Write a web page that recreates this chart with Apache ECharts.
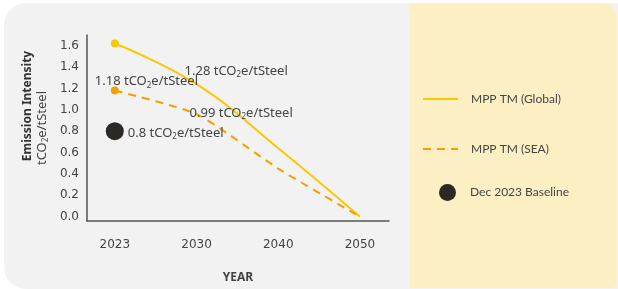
<!DOCTYPE html>
<html>
<head>
<meta charset="utf-8">
<script src="https://cdn.jsdelivr.net/npm/echarts@6/dist/echarts.min.js"></script>
<style>
  html, body { margin: 0; padding: 0; background: #fff; }
</style>
</head>
<body>
<div id="chart" style="width:618px;height:289px"></div>
<script>
// x positions are evenly spaced categories, so series use the category index
const years = ['2023', '2030', '2040', '2050'];
const globalVals = [1.62, 1.24, 0.64, 0];
const seaVals = [1.18, 0.96, 0.45, 0];
const baselineVal = 0.8;
const yTicks = [0, 0.2, 0.4, 0.6, 0.8, 1.0, 1.2, 1.4, 1.6];
// numbers printed in the annotations
const globalNote = '1.28';
const seaNotes = ['1.18', '0.99'];
const baselineNote = '0.8';

const yellow = '#fcc700';
const orange = '#f5a000';
const textCol = '#444';

const toPts = arr => arr.map((v, i) => [i, v]);

const rich = {
  n: { fontSize: 13, color: textCol, fontFamily: 'Noto Sans', lineHeight: 16 },
  s: { fontSize: 8, color: textCol, fontFamily: 'Noto Sans', lineHeight: 9, verticalAlign: 'bottom' }
};
function unitLabel(t) {
  return '{n|' + t + ' tCO}{s|2}{n|e/tSteel}';
}
// label pinned on a data point, dx/dy shift from that point
function labelPoint(i, v, text, dx, dy) {
  return {
    coord: [i, v], symbol: 'circle', symbolSize: 0,
    label: {
      show: true, position: 'inside', align: 'left', verticalAlign: 'middle',
      offset: [dx, dy], formatter: unitLabel(text), rich: rich
    }
  };
}

const legendText = { fontFamily: 'Lato', fontSize: 12, color: textCol, padding: [0, 0, 0, 8] };

const yBase = {
  type: 'value', min: -0.04, max: 1.7,
  nameLocation: 'middle', nameRotate: 90,
  axisTick: { show: false },
  splitLine: { show: false }
};

const option = {
  animation: false,
  graphic: [
    { type: 'rect', shape: { x: 4, y: 3, width: 614, height: 286, r: [22, 0, 0, 22] }, style: { fill: '#f2f2f2' }, z: -10 },
    { type: 'rect', shape: { x: 409, y: 3, width: 208, height: 285, r: [0, 15, 6, 0] }, style: { fill: '#fdefc4' }, z: -9 }
  ],
  grid: { left: 87, right: 229, top: 35, bottom: 68 },
  legend: [
    {
      left: 422, top: 93, padding: 0, itemWidth: 35, itemHeight: 14,
      data: ['MPP TM (Global)'], itemStyle: { opacity: 0 },
      textStyle: legendText
    },
    {
      left: 422, top: 143, padding: 0, itemWidth: 35, itemHeight: 14,
      data: ['MPP TM (SEA)'], itemStyle: { opacity: 0 },
      textStyle: legendText
    },
    {
      left: 439, top: 184, padding: 0, itemWidth: 17, itemHeight: 17,
      data: [{ name: 'Dec 2023 Baseline', icon: 'circle' }],
      textStyle: Object.assign({}, legendText, { padding: [0, 0, 0, 9] })
    }
  ],
  xAxis: {
    type: 'value', min: -0.34, max: 3.355,
    name: 'YEAR', nameLocation: 'middle', nameGap: 51,
    nameTextStyle: { fontFamily: 'Noto Sans', fontWeight: 'bold', fontSize: 12, color: textCol },
    axisLine: { onZero: false, lineStyle: { color: '#555', width: 1.5 } },
    axisTick: { show: false },
    splitLine: { show: false },
    axisLabel: {
      customValues: [0, 1, 2, 3], margin: 18,
      formatter: v => years[v],
      fontFamily: 'DejaVu Sans', fontSize: 12, color: textCol
    }
  },
  yAxis: [
    Object.assign({}, yBase, {
      name: 'Emission Intensity', nameGap: 53,
      nameTextStyle: { fontFamily: 'Noto Sans', fontWeight: 'bold', fontSize: 12, color: '#333', padding: [0, 0, 0, 44] },
      axisLine: { show: true, onZero: false, lineStyle: { color: '#555', width: 1.5 } },
      axisLabel: {
        customValues: yTicks, margin: 8,
        formatter: v => v.toFixed(1),
        fontFamily: 'DejaVu Sans', fontSize: 12, color: textCol
      }
    }),
    // second line of the axis title
    Object.assign({}, yBase, {
      position: 'left', offset: 0,
      name: '{n|tCO}{s|2}{n|e/tSteel}', nameGap: 37,
      nameTextStyle: { rich: rich },
      axisLine: { show: false },
      axisLabel: { show: false }
    })
  ],
  series: [
    {
      name: 'MPP TM (Global)', type: 'line', data: toPts(globalVals),
      symbol: 'none', smooth: 0.45, color: yellow,
      lineStyle: { color: yellow, width: 2 },
      markPoint: {
        data: [
          { coord: [0, globalVals[0]], symbol: 'circle', symbolSize: 8, itemStyle: { color: yellow }, label: { show: false } },
          labelPoint(1, globalVals[1], globalNote, -12, -13)
        ]
      },
      z: 3
    },
    {
      name: 'MPP TM (SEA)', type: 'line', data: toPts(seaVals),
      symbol: 'none', smooth: 0.2, color: orange,
      lineStyle: { color: orange, width: 2, type: [8, 6] },
      markPoint: {
        data: [
          { coord: [0, seaVals[0]], symbol: 'circle', symbolSize: 8, itemStyle: { color: orange }, label: { show: false } },
          labelPoint(0, seaVals[0], seaNotes[0], -20, -9),
          labelPoint(1, seaVals[1], seaNotes[1], -7, -1)
        ]
      },
      z: 3
    },
    {
      name: 'Dec 2023 Baseline', type: 'scatter', data: [[0, baselineVal]],
      symbol: 'circle', symbolSize: 18, color: '#2b2926',
      itemStyle: { opacity: 1 },
      label: {
        show: true, position: 'inside', align: 'left', verticalAlign: 'middle',
        offset: [13, 2], formatter: unitLabel(baselineNote), rich: rich
      },
      z: 4
    }
  ]
};

const chart = echarts.init(document.getElementById('chart'), null, { renderer: 'canvas' });
chart.setOption(option);
</script>
</body>
</html>
